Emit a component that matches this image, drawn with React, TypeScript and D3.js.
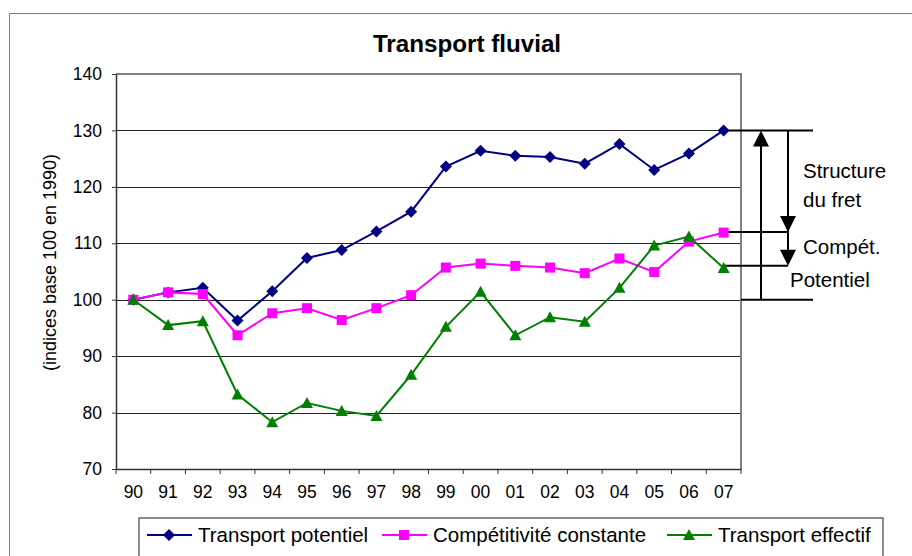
import React, { useRef, useEffect } from 'react';
import * as d3 from 'd3';

const years = ['90', '91', '92', '93', '94', '95', '96', '97', '98', '99', '00', '01', '02', '03', '04', '05', '06', '07'];
const potentiel = [100, 101.3, 102.1, 96.3, 101.5, 107.4, 108.8, 112.1, 115.6, 123.6, 126.4, 125.5, 125.3, 124.1, 127.6, 123.0, 125.9, 130.0];
const competitivite = [100, 101.3, 101.0, 93.7, 97.6, 98.5, 96.4, 98.5, 100.8, 105.7, 106.4, 106.0, 105.7, 104.7, 107.3, 104.9, 110.3, 111.9];
const effectif = [100, 95.5, 96.2, 83.2, 78.3, 81.7, 80.3, 79.4, 86.7, 95.2, 101.4, 93.7, 96.9, 96.1, 102.1, 109.6, 111.2, 105.6];
const yTicks = [70, 80, 90, 100, 110, 120, 130, 140];
// niveaux des traits d'annotation à droite : potentiel, compét., effectif, base
const annotLevels = [130, 112, 106, 100];

const series = [
  { name: 'Transport potentiel', values: potentiel, color: '#000080', marker: 'diamond' },
  { name: 'Compétitivité constante', values: competitivite, color: '#FF00FF', marker: 'square' },
  { name: 'Transport effectif', values: effectif, color: '#008000', marker: 'triangle' }
];

const FONT = 'Liberation Sans, Arial, sans-serif';

export default function App(): JSX.Element {
  const svgRef = useRef<SVGSVGElement>(null);
  useEffect(() => {
    const svgEle = svgRef.current;
    if (svgEle == null) {
      return;
    }
    const svg = d3.select(svgEle);
    svg.selectAll('*').remove();

    const plot = { left: 116, right: 741, top: 74, bottom: 469 };

    // cadre extérieur
    svg
      .append('rect')
      .attr('x', 9.5)
      .attr('y', 13.5)
      .attr('width', 1000)
      .attr('height', 700)
      .attr('fill', 'white')
      .attr('stroke', '#808080')
      .attr('stroke-width', 1);

    const x = d3.scaleBand().domain(years).range([plot.left, plot.right]);
    const y = d3.scaleLinear().domain([70, 140]).range([plot.bottom, plot.top]);
    const cx = (d: string) => (x(d) as number) + x.bandwidth() / 2;

    // titre
    svg
      .append('text')
      .attr('x', 467)
      .attr('y', 52)
      .attr('text-anchor', 'middle')
      .attr('font-family', FONT)
      .attr('font-weight', 'bold')
      .attr('font-size', 24.2)
      .text('Transport fluvial');

    // grille
    svg
      .selectAll('.grid')
      .data(yTicks.filter((t) => t !== 70 && t !== 140))
      .join('line')
      .attr('x1', plot.left)
      .attr('x2', plot.right)
      .attr('y1', (d) => Math.round(y(d)) + 0.5)
      .attr('y2', (d) => Math.round(y(d)) + 0.5)
      .attr('stroke', '#222')
      .attr('stroke-width', 1);

    // bordure de la zone de tracé
    svg
      .append('path')
      .attr('d', `M${plot.left},${plot.top}H${plot.right}V${plot.bottom}`)
      .attr('fill', 'none')
      .attr('stroke', '#808080')
      .attr('stroke-width', 2);

    // axe Y
    const yAxis = svg
      .append('g')
      .attr('transform', `translate(${plot.left},0)`)
      .call(d3.axisLeft(y).tickValues(yTicks).tickSize(4).tickPadding(10).tickSizeOuter(0));
    yAxis.select('.domain').attr('stroke', '#333').attr('stroke-width', 1.5);
    yAxis.selectAll('line').attr('stroke', '#333');
    yAxis
      .selectAll('text')
      .attr('font-family', FONT)
      .attr('font-size', 17.5)
      .attr('fill', '#000');

    // axe X
    const xAxis = svg
      .append('g')
      .attr('transform', `translate(0,${plot.bottom})`)
      .call(d3.axisBottom(x).tickSize(0).tickPadding(17));
    xAxis.select('.domain').attr('stroke', '#333').attr('stroke-width', 1.5);
    xAxis
      .selectAll('text')
      .attr('font-family', FONT)
      .attr('font-size', 17.5)
      .attr('fill', '#000');
    svg
      .selectAll('.xtick')
      .data([...years.map((d) => x(d) as number), plot.right])
      .join('line')
      .attr('x1', (d) => d)
      .attr('x2', (d) => d)
      .attr('y1', plot.bottom)
      .attr('y2', plot.bottom + 5)
      .attr('stroke', '#333');

    // titre axe Y
    svg
      .append('text')
      .attr('transform', `translate(56,${(plot.top + plot.bottom) / 2 - 9}) rotate(-90)`)
      .attr('text-anchor', 'middle')
      .attr('font-family', FONT)
      .attr('font-size', 18)
      .text('(indices base 100 en 1990)');

    const drawMarker = (g: d3.Selection<any, any, any, any>, marker: string, color: string, px: number, py: number) => {
      if (marker === 'diamond') {
        g.append('path')
          .attr('d', `M${px},${py - 6}L${px + 6},${py}L${px},${py + 6}L${px - 6},${py}Z`)
          .attr('fill', color);
      } else if (marker === 'square') {
        g.append('rect')
          .attr('x', px - 5)
          .attr('y', py - 5)
          .attr('width', 10)
          .attr('height', 10)
          .attr('fill', color);
      } else {
        g.append('path')
          .attr('d', `M${px},${py - 6}L${px + 6},${py + 5}L${px - 6},${py + 5}Z`)
          .attr('fill', color);
      }
    };

    // annotations à droite
    const ann = svg.append('g');
    const xLast = cx(years[years.length - 1]);
    const annLines = [
      { v: annotLevels[0], x1: xLast, x2: 813 },
      { v: annotLevels[1], x1: xLast, x2: 788 },
      { v: annotLevels[2], x1: xLast, x2: 788 },
      { v: annotLevels[3], x1: plot.right, x2: 813 }
    ];
    ann
      .selectAll('line')
      .data(annLines)
      .join('line')
      .attr('x1', (d) => d.x1)
      .attr('x2', (d) => d.x2)
      .attr('y1', (d) => y(d.v))
      .attr('y2', (d) => y(d.v))
      .attr('stroke', '#000')
      .attr('stroke-width', 2);
    // flèche montante
    ann
      .append('line')
      .attr('x1', 761)
      .attr('x2', 761)
      .attr('y1', y(annotLevels[3]))
      .attr('y2', y(annotLevels[0]) + 10)
      .attr('stroke', '#000')
      .attr('stroke-width', 2);
    const yTop = y(annotLevels[0]);
    ann
      .append('path')
      .attr('d', `M761,${yTop}L769,${yTop + 16}L753,${yTop + 16}Z`)
      .attr('fill', '#000');
    // flèche descendante
    ann
      .append('line')
      .attr('x1', 788)
      .attr('x2', 788)
      .attr('y1', yTop)
      .attr('y2', y(annotLevels[2]) - 5)
      .attr('stroke', '#000')
      .attr('stroke-width', 2);
    [annotLevels[1], annotLevels[2]].forEach((v) => {
      const yy = y(v);
      ann
        .append('path')
        .attr('d', `M788,${yy}L796,${yy - 16}L780,${yy - 16}Z`)
        .attr('fill', '#000');
    });
    const annTexts = [
      { t: 'Structure', x: 803, y: 178 },
      { t: 'du fret', x: 803, y: 207 },
      { t: 'Compét.', x: 803, y: 254 },
      { t: 'Potentiel', x: 790, y: 287 }
    ];
    ann
      .selectAll('text')
      .data(annTexts)
      .join('text')
      .attr('x', (d) => d.x)
      .attr('y', (d) => d.y)
      .attr('font-family', FONT)
      .attr('font-size', 20.5)
      .text((d) => d.t);

    // séries
    const line = d3
      .line<number>()
      .x((_, i) => cx(years[i]))
      .y((d) => y(d));
    series.forEach((s) => {
      const g = svg.append('g');
      g.append('path')
        .attr('d', line(s.values) as string)
        .attr('fill', 'none')
        .attr('stroke', s.color)
        .attr('stroke-width', 2);
      s.values.forEach((v, i) => drawMarker(g, s.marker, s.color, cx(years[i]), y(v)));
    });

    // légende
    const legend = svg.append('g');
    legend
      .append('rect')
      .attr('x', 139)
      .attr('y', 518)
      .attr('width', 744)
      .attr('height', 60)
      .attr('fill', 'white')
      .attr('stroke', '#666')
      .attr('stroke-width', 1.5);
    const legendX = [147, 382, 667];
    series.forEach((s, i) => {
      const lx = legendX[i];
      const ly = 535;
      legend
        .append('line')
        .attr('x1', lx)
        .attr('x2', lx + 45)
        .attr('y1', ly)
        .attr('y2', ly)
        .attr('stroke', s.color)
        .attr('stroke-width', 2);
      drawMarker(legend, s.marker, s.color, lx + 22, ly);
      legend
        .append('text')
        .attr('x', lx + 51)
        .attr('y', 542)
        .attr('font-family', FONT)
        .attr('font-size', 20.5)
        .text(s.name);
    });
  }, []);
  return (
    <svg
      ref={svgRef}
      width={912}
      height={556}
      style={{ position: 'absolute', left: 0, top: 0, background: 'white' }}
    />
  );
}
